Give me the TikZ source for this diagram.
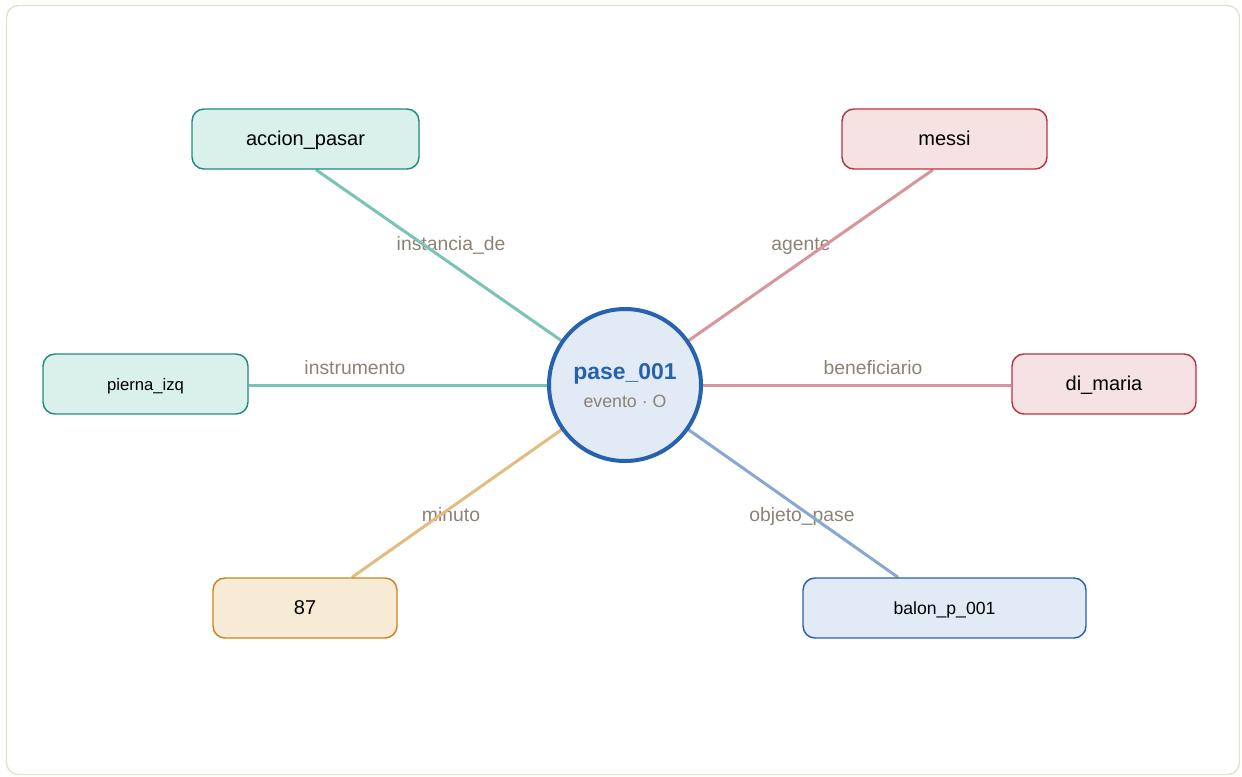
\documentclass[tikz,border=0pt]{standalone}
\usepackage{fontspec}
\setmainfont{Liberation Sans}
\usetikzlibrary{calc,backgrounds}

\definecolor{frameC}{HTML}{E9E0CC}
\definecolor{tealFill}{HTML}{DAF0EB}
\definecolor{tealLine}{HTML}{1E8C7E}
\definecolor{tealEdge}{HTML}{7CC3B7}
\definecolor{redFill}{HTML}{F6E2E3}
\definecolor{redLine}{HTML}{B93441}
\definecolor{redEdge}{HTML}{D9959C}
\definecolor{orFill}{HTML}{F8EBD6}
\definecolor{orLine}{HTML}{C9851E}
\definecolor{orEdge}{HTML}{E3BD80}
\definecolor{blueFill}{HTML}{E1EAF5}
\definecolor{blueLine}{HTML}{2762AE}
\definecolor{blueEdge}{HTML}{88A8D2}
\definecolor{labelC}{HTML}{8C8275}

\tikzset{
  box/.style={draw, rounded corners=9pt, line width=1.1pt, minimum height=45pt,
              inner sep=0pt, text=black, text height=11pt, text depth=1pt,
              font=\fontsize{15}{18}\selectfont},
  tealbox/.style={box, fill=tealFill, draw=tealLine},
  redbox/.style={box, fill=redFill, draw=redLine},
  orbox/.style={box, fill=orFill, draw=orLine},
  bluebox/.style={box, fill=blueFill, draw=blueLine},
  edgelbl/.style={text=labelC, font=\fontsize{14.5}{17}\selectfont, inner sep=0pt, anchor=base},
  link/.style={line width=2.25pt},
}

\begin{document}
\begin{tikzpicture}[x=0.75pt,y=-0.75pt]
\useasboundingbox (0,0) rectangle (1242,776);
\draw[frameC, line width=1.1pt, rounded corners=9pt] (6.5,5.5) rectangle (1239.5,774.5);

% central event
\node[circle, draw=blueLine, fill=blueFill, line width=3pt, minimum size=114pt, inner sep=0pt] (c) at (625,385) {};
\node[text=blueLine, font=\bfseries\fontsize{17.2}{20}\selectfont, inner sep=0pt, anchor=base] (ct) at (625,379) {pase\_001};
\node[text=labelC, font=\fontsize{13.3}{16}\selectfont, inner sep=0pt, anchor=base] (cs) at (625,407) {evento · O};

% related entities
\node[tealbox, minimum width=170.25pt] (acc) at (305.5,139) {accion\_pasar};
\node[redbox, minimum width=153.75pt] (messi) at (944.5,139) {messi};
\node[tealbox, minimum width=153.75pt, font=\fontsize{12.5}{15}\selectfont] (pierna) at (145.5,384) {pierna\_izq};
\node[redbox, minimum width=138pt] (dim) at (1104,384) {di\_maria};
\node[orbox, minimum width=138pt] (min) at (305,608) {87};
\node[bluebox, minimum width=212.25pt, font=\fontsize{13.2}{16}\selectfont] (bal) at (944.5,608) {balon\_p\_001};

\begin{pgfonlayer}{background}
  % relation names
  \node[edgelbl] (l1) at (451,250) {instancia\_de};
  \node[edgelbl] (l2) at (801,250) {agente};
  \node[edgelbl] (l3) at (355,374) {instrumento};
  \node[edgelbl] (l4) at (873,374) {beneficiario};
  \node[edgelbl] (l5) at (451,521) {minuto};
  \node[edgelbl] (l6) at (802,521) {objeto\_pase};
  % relations
  \draw[link, tealEdge] (c.center) -- ($(acc.south)+(10.5,0)$);
  \draw[link, redEdge] (c.center) -- ($(messi.south)+(-11.5,0)$);
  \draw[link, tealEdge] (c.center) -- (pierna.east |- c.center);
  \draw[link, redEdge] (c.center) -- (dim.west |- c.center);
  \draw[link, orEdge] (c.center) -- ($(min.north)+(47,0)$);
  \draw[link, blueEdge] (c.center) -- ($(bal.north)+(-46.5,0)$);
\end{pgfonlayer}
\end{tikzpicture}
\end{document}
